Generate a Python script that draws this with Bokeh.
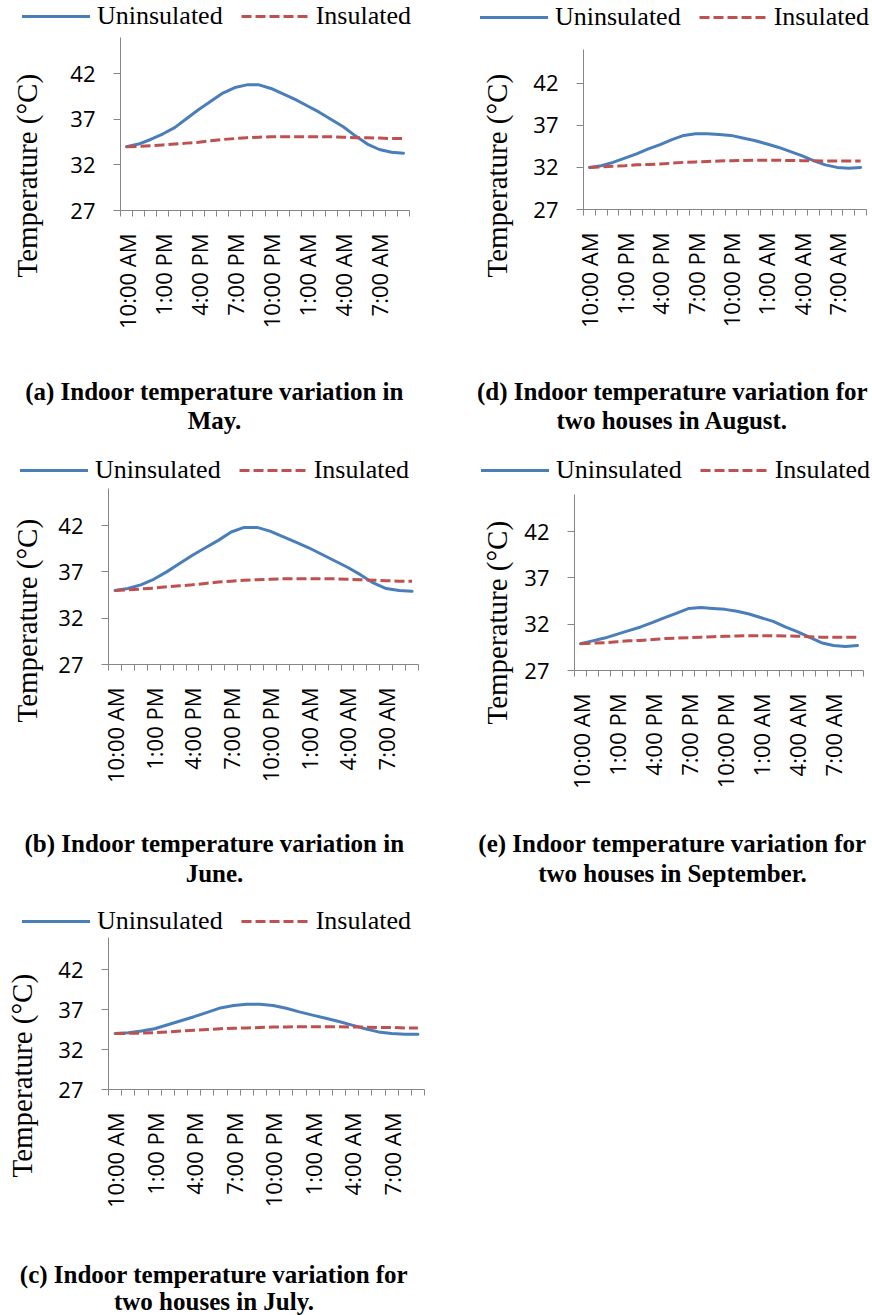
import math
from bokeh.plotting import figure
from bokeh.models import Range1d, FixedTicker, Legend, LegendItem, Label
from bokeh.layouts import column, row
from bokeh.embed import file_html
from bokeh.resources import INLINE

# ---------------- data ----------------
hours = ["10:00 AM", "11:00 AM", "12:00 PM", "1:00 PM", "2:00 PM", "3:00 PM",
         "4:00 PM", "5:00 PM", "6:00 PM", "7:00 PM", "8:00 PM", "9:00 PM",
         "10:00 PM", "11:00 PM", "12:00 AM", "1:00 AM", "2:00 AM", "3:00 AM",
         "4:00 AM", "5:00 AM", "6:00 AM", "7:00 AM", "8:00 AM", "9:00 AM"]
label_step = 3
y_ticks = [27, 32, 37, 42]
y_min, y_max = 27, 46
series_names = ["Uninsulated", "Insulated"]
y_title = "Temperature (°C)"

may_uninsulated = [34.0, 34.3, 34.8, 35.4, 36.1, 37.1, 38.1, 39.0, 39.9, 40.5, 40.8, 40.8,
                   40.4, 39.8, 39.2, 38.5, 37.8, 37.0, 36.2, 35.2, 34.3, 33.7, 33.4, 33.3]
may_insulated = [34.0, 34.05, 34.1, 34.2, 34.3, 34.4, 34.5, 34.65, 34.8, 34.9, 35.0, 35.05,
                 35.1, 35.1, 35.1, 35.1, 35.1, 35.1, 35.05, 35.0, 35.0, 34.95, 34.9, 34.9]

june_uninsulated = [35.0, 35.2, 35.6, 36.2, 37.0, 37.9, 38.8, 39.6, 40.4, 41.3, 41.8, 41.8,
                    41.4, 40.8, 40.2, 39.6, 38.9, 38.2, 37.5, 36.7, 35.8, 35.2, 35.0, 34.9]
june_insulated = [35.0, 35.05, 35.15, 35.25, 35.4, 35.5, 35.6, 35.75, 35.9, 36.0, 36.1, 36.15,
                  36.2, 36.25, 36.25, 36.25, 36.25, 36.25, 36.2, 36.15, 36.1, 36.05, 36.0, 36.0]

july_uninsulated = [34.0, 34.1, 34.3, 34.6, 35.1, 35.6, 36.1, 36.65, 37.2, 37.5, 37.65, 37.65,
                    37.5, 37.15, 36.7, 36.3, 35.9, 35.5, 35.05, 34.6, 34.2, 34.0, 33.9, 33.9]
july_insulated = [34.0, 34.02, 34.05, 34.1, 34.2, 34.3, 34.4, 34.5, 34.6, 34.65, 34.7, 34.75,
                  34.8, 34.82, 34.85, 34.85, 34.85, 34.85, 34.8, 34.8, 34.75, 34.75, 34.7, 34.7]

august_uninsulated = [32.0, 32.2, 32.6, 33.1, 33.6, 34.2, 34.7, 35.3, 35.8, 36.0, 36.0, 35.9,
                      35.8, 35.5, 35.2, 34.8, 34.4, 33.9, 33.4, 32.8, 32.3, 32.0, 31.9, 32.0]
august_insulated = [32.0, 32.05, 32.15, 32.2, 32.3, 32.35, 32.4, 32.5, 32.6, 32.65, 32.7, 32.75,
                    32.8, 32.82, 32.85, 32.85, 32.85, 32.82, 32.8, 32.78, 32.75, 32.75, 32.75, 32.75]

september_uninsulated = [29.9, 30.2, 30.5, 30.9, 31.3, 31.7, 32.2, 32.7, 33.2, 33.7, 33.8, 33.7,
                         33.6, 33.4, 33.1, 32.7, 32.3, 31.7, 31.2, 30.6, 30.0, 29.7, 29.6, 29.7]
september_insulated = [29.9, 29.95, 30.0, 30.1, 30.2, 30.25, 30.35, 30.45, 30.5, 30.55, 30.6, 30.65,
                       30.7, 30.72, 30.75, 30.75, 30.75, 30.72, 30.7, 30.65, 30.6, 30.6, 30.6, 30.6]

captions = {
    "a": ["(a) Indoor temperature variation in", "May."],
    "b": ["(b) Indoor temperature variation in", "June."],
    "c": ["(c) Indoor temperature variation for", "two houses in July."],
    "d": ["(d) Indoor temperature variation for", "two houses in August."],
    "e": ["(e) Indoor temperature variation for", "two houses in September."],
}

# ---------------- style / layout ----------------
BLUE = "#4A7EBB"
RED = "#C0504D"
AXIS = "#868686"
SERIF = "Liberation Serif"
SANS = "Open Sans"
CAP_SIZE = 25
YT_SIZE = 29
MID = 0.3375  # distance from baseline to the middle of the text box, in em (Times metrics)

# page geometry of each panel cell:
# cell (x0, y0, w, h), frame (L, R, T, B), y-title column width, bottom of the chart strip,
# legend (left x, text baseline y), y-title (baseline x, start y), caption (center x, baseline1, baseline2)
geometry = {
    "a": dict(cell=(0, 0, 436, 455), frame=(120, 409, 37, 210), wy=60, strip_bottom=340,
              leg=(22, 25.0), ytitle=(36.5, 277), cap=(214, 399, 428)),
    "d": dict(cell=(436, 0, 436, 455), frame=(583, 866, 49, 209), wy=90, strip_bottom=340,
              leg=(480, 26.7), ytitle=(506.5, 277), cap=(672, 399, 428)),
    "b": dict(cell=(0, 455, 436, 438), frame=(108, 418, 488, 664), wy=55, strip_bottom=795,
              leg=(20, 479.3), ytitle=(36.5, 722), cap=(214, 851, 881)),
    "e": dict(cell=(436, 455, 436, 438), frame=(574, 863, 494, 670), wy=85, strip_bottom=795,
              leg=(481, 479.3), ytitle=(506, 724), cap=(672, 851, 881)),
    "c": dict(cell=(0, 893, 436, 422), frame=(107, 424, 937, 1089), wy=55, strip_bottom=1225,
              leg=(22, 930.0), ytitle=(31.5, 1177), cap=(213.5, 1282, 1309)),
}


def blank(w, h):
    f = figure(width=w, height=h, title=None, x_range=Range1d(0, 1), y_range=Range1d(0, 1),
               output_backend="svg", toolbar_location=None, min_border=0,
               x_axis_type=None, y_axis_type=None, outline_line_color=None,
               background_fill_color="white", border_fill_color="white")
    f.grid.visible = False
    return f


def make_cell(key, unins, ins):
    g = geometry[key]
    x0, y0, W, Hc = g["cell"]
    L, R, T, B = g["frame"]
    wy = g["wy"]
    sb = g["strip_bottom"]
    h_top = T - y0
    h_mid = sb - T
    h_cap = y0 + Hc - sb

    # ---- chart ----
    p = figure(width=W - wy, height=h_mid, title=None,
               x_range=Range1d(-0.5, len(hours) - 0.5),
               y_range=Range1d(y_min, y_max),
               output_backend="svg", toolbar_location=None,
               min_border_left=L - (x0 + wy), min_border_right=x0 + W - R,
               min_border_top=0, min_border_bottom=h_mid - (B - T),
               outline_line_color=None, background_fill_color="white",
               border_fill_color="white")
    p.grid.visible = False
    xs = list(range(len(hours)))
    p.line(xs, unins, line_color=BLUE, line_width=3, line_join="round", line_cap="round")
    p.line(xs, ins, line_color=RED, line_width=3, line_dash="10 4")

    xa = p.xaxis[0]
    xa.ticker = FixedTicker(ticks=[i for i in xs if i % label_step == 0],
                            minor_ticks=[i - 0.5 for i in range(len(hours) + 1)])
    xa.major_label_overrides = {i: hours[i] for i in xs if i % label_step == 0}
    xa.major_tick_line_color = None
    xa.major_tick_out = 0
    xa.major_tick_in = 0
    xa.minor_tick_out = 6
    xa.minor_tick_in = 0
    xa.minor_tick_line_color = AXIS
    xa.axis_line_color = AXIS
    xa.major_label_orientation = math.pi / 2
    xa.major_label_standoff = 17
    xa.major_label_text_font = SANS
    xa.major_label_text_font_size = "22px"
    xa.major_label_text_color = "black"

    ya = p.yaxis[0]
    ya.ticker = FixedTicker(ticks=y_ticks)
    ya.major_tick_out = 7
    ya.major_tick_in = 0
    ya.major_tick_line_color = AXIS
    ya.minor_tick_line_color = None
    ya.axis_line_color = AXIS
    ya.major_label_standoff = 18
    ya.major_label_text_font = SANS
    ya.major_label_text_font_size = "22px"
    ya.major_label_text_color = "black"

    # ---- legend strip (proxy glyphs lie outside the strip's ranges) ----
    top = blank(W, h_top)
    k1 = top.line(x=[-3, -2], y=[-3, -3], line_color=BLUE, line_width=3, line_cap="round")
    k2 = top.line(x=[-3, -2], y=[-3, -3], line_color=RED, line_width=3, line_dash="10 4")
    lx, lbase = g["leg"]
    legend_bottom = lbase + 5.6 - y0
    legend = Legend(items=[LegendItem(label=series_names[0], renderers=[k1]),
                           LegendItem(label=series_names[1], renderers=[k2])],
                    orientation="horizontal", location=(lx - x0, h_top - legend_bottom),
                    glyph_width=68, glyph_height=20, label_height=20,
                    label_standoff=7, spacing=18, padding=0, margin=0,
                    border_line_color=None, background_fill_alpha=0,
                    label_text_font=SERIF, label_text_font_size="26px",
                    label_text_color="black")
    top.add_layout(legend)

    # ---- y title strip ----
    yt = blank(wy, h_mid)
    tx, ty = g["ytitle"]
    yt.add_layout(Label(x=tx - x0 - MID * YT_SIZE, y=ty - T, x_units="canvas", y_units="canvas",
                        text=y_title, angle=math.pi / 2, text_align="left",
                        text_baseline="middle", text_font=SERIF,
                        text_font_size=f"{YT_SIZE}px", text_color="black"))

    # ---- caption strip ----
    cap = blank(W, h_cap)
    cx, b1, b2 = g["cap"]
    for line, by in zip(captions[key], (b1, b2)):
        cap.add_layout(Label(x=cx - x0, y=by - sb - MID * CAP_SIZE, x_units="canvas",
                             y_units="canvas", text=line, text_align="center",
                             text_baseline="middle", text_font=SERIF,
                             text_font_style="bold", text_font_size=f"{CAP_SIZE}px",
                             text_color="black"))

    return column(column(top), row(column(yt), column(p)), column(cap))


ca = make_cell("a", may_uninsulated, may_insulated)
cd = make_cell("d", august_uninsulated, august_insulated)
cb = make_cell("b", june_uninsulated, june_insulated)
ce = make_cell("e", september_uninsulated, september_insulated)
cc = make_cell("c", july_uninsulated, july_insulated)

layout = column(row(ca, cd), row(cb, ce), row(cc))
open("out.html", "w").write(file_html(layout, INLINE))
